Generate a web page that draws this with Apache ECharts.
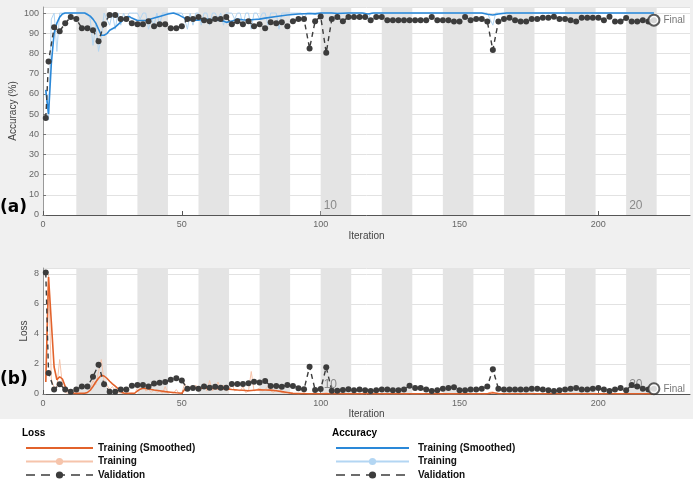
<!DOCTYPE html>
<html>
<head>
<meta charset="utf-8">
<script src="https://cdn.jsdelivr.net/npm/echarts@6/dist/echarts.min.js"></script>
<style>
html, body { margin: 0; padding: 0; background: #fff; }
#main { width: 693px; height: 480px; background: linear-gradient(#f0f0f0 0, #f0f0f0 419px, #fff 419px); }
</style>
</head>
<body>
<div id="main"></div>
<script>
// iterations: training every iteration, validation at 1 and then every 2
var trainIter = [];
for (var j = 1; j <= 220; j++) trainIter.push(j);
var valIter = [1];
for (var i = 2; i <= 220; i += 2) valIter.push(i);

var iterPerEpoch = 11;
var numEpochs = 20;
var epochLabels = [10, 20];
var xTicks = [0, 50, 100, 150, 200];

// validation accuracy (%)
var valAcc = [48,
  76, 93, 91, 95, 98,
  97, 92.5, 92.5, 91.5, 86,
  94.5, 99, 99, 97, 97,
  95, 94.5, 94.5, 96, 93.5,
  94.5, 94.5, 92.5, 92.5, 93.5,
  97, 97, 98, 96.5, 96,
  97, 97, 98, 94.5, 96,
  94.5, 96, 93.5, 94.5, 92.5,
  95.5, 95, 95.5, 93.5, 96,
  97, 97, 82.5, 96, 98.3,
  80.3, 97, 98, 96, 98,
  98, 98, 98, 96.5, 98,
  98, 96.5, 96.5, 96.5, 96.5,
  96.5, 96.5, 96.5, 96.5, 98,
  96.5, 96.5, 96.5, 95.8, 95.8,
  98, 96.5, 97, 97, 95.8,
  81.7, 95.8, 97, 97.7, 96.5,
  95.8, 95.8, 97, 97, 97.7,
  97.7, 98.2, 97, 97, 96.5,
  95.8, 97.7, 97.7, 97.7, 97.7,
  96.5, 98.2, 95.8, 95.8, 97.5,
  95.8, 95.8, 96.5, 95.8, 96.5];

// validation loss
var valLoss = [8.1,
  1.4, 0.3, 0.65, 0.3, 0.15,
  0.3, 0.5, 0.5, 1.15, 1.95,
  0.65, 0.15, 0.15, 0.3, 0.3,
  0.55, 0.6, 0.6, 0.5, 0.7,
  0.75, 0.8, 0.95, 1.05, 0.9,
  0.35, 0.4, 0.35, 0.5, 0.42,
  0.49, 0.42, 0.42, 0.67, 0.67,
  0.67, 0.71, 0.82, 0.76, 0.87,
  0.53, 0.53, 0.49, 0.6, 0.53,
  0.38, 0.31, 1.82, 0.27, 0.33,
  1.78, 0.22, 0.22, 0.27, 0.31,
  0.25, 0.3, 0.25, 0.2, 0.25,
  0.3, 0.3, 0.25, 0.25, 0.3,
  0.55, 0.4, 0.4, 0.3, 0.2,
  0.25, 0.35, 0.4, 0.45, 0.25,
  0.25, 0.3, 0.3, 0.35, 0.5,
  1.65, 0.35, 0.3, 0.3, 0.3,
  0.3, 0.3, 0.35, 0.35, 0.3,
  0.25, 0.2, 0.25, 0.3, 0.35,
  0.4, 0.3, 0.3, 0.35, 0.4,
  0.3, 0.2, 0.3, 0.4, 0.25,
  0.6, 0.5, 0.35, 0.3, 0.35];

// mini-batch training accuracy (%)
var trainAcc = [
  62, 47, 97, 100, 81, 100, 100, 100, 100, 100,
  100, 100, 100, 100, 100, 100, 97, 84, 94, 81,
  88, 100, 97, 94, 100, 92, 100, 94, 100, 97,
  100, 100, 100, 100, 97, 100, 100, 92, 97, 94,
  100, 94, 100, 100, 100, 100, 100, 100, 100, 100,
  97, 92, 100, 94, 100, 100, 94, 100, 100, 94,
  100, 100, 97, 100, 94, 100, 100, 100, 97, 100,
  100, 94, 100, 100, 92, 100, 100, 97, 100, 100,
  94, 100, 100, 100, 92, 100, 100, 100, 100, 100,
  100, 100, 100, 97, 100, 100, 100, 100, 100, 100,
  100, 100, 100, 100, 100, 100, 100, 100, 100, 100,
  100, 100, 100, 100, 100, 100, 97, 100, 100, 100,
  100, 100, 100, 100, 100, 100, 100, 100, 100, 100,
  100, 100, 100, 100, 100, 100, 100, 100, 100, 100,
  100, 100, 100, 100, 100, 100, 100, 100, 100, 100,
  100, 100, 100, 100, 100, 100, 100, 100, 100, 100,
  97, 94, 100, 100, 100, 100, 100, 100, 100, 100,
  100, 100, 100, 100, 100, 100, 100, 100, 100, 100,
  100, 100, 100, 100, 100, 100, 100, 100, 100, 100,
  100, 100, 100, 100, 100, 100, 100, 100, 100, 100,
  100, 100, 100, 100, 100, 100, 100, 100, 100, 100,
  100, 100, 100, 100, 100, 100, 100, 100, 100, 100];

// mini-batch training loss
var trainLoss = [
  0.8, 8.0, 1.0, 0.4, 0.5, 2.3, 0.6, 0.1, 0.05, 0.03,
  0.02, 0.02, 0.03, 0.02, 0.05, 0.1, 0.3, 0.9, 0.6, 1.5,
  2.3, 0.8, 0.6, 0.3, 0.5, 0.2, 0.1, 0.05, 0.02, 0.02,
  0.02, 0.05, 0.02, 0.4, 0.5, 0.8, 0.2, 0.3, 0.1, 0.3,
  0.1, 0.2, 0.05, 0.5, 0.05, 0.1, 0.05, 0.3, 0.02, 0.02,
  0.7, 0.2, 0.5, 0.3, 0.6, 0.2, 0.3, 0.7, 0.2, 0.9,
  0.2, 0.4, 0.8, 0.3, 0.6, 0.2, 0.3, 0.7, 0.2, 0.3,
  0.2, 0.5, 0.1, 0.2, 1.5, 0.2, 0.3, 0.4, 0.2, 0.3,
  0.5, 0.2, 0.1, 0.3, 0.5, 0.1, 0.05, 0.1, 0.02, 0.02,
  0.02, 0.01, 0.03, 0.1, 0.02, 0.01, 0.02, 0.02, 0.01, 0.02,
  0.03, 0.1, 0.02, 0.01, 0.02, 0.01, 0.02, 0.02, 0.01, 0.01,
  0.02, 0.01, 0.01, 0.02, 0.01, 0.05, 0.08, 0.02, 0.01, 0.01,
  0.01, 0.02, 0.01, 0.01, 0.02, 0.01, 0.01, 0.01, 0.02, 0.01,
  0.01, 0.03, 0.01, 0.01, 0.01, 0.02, 0.01, 0.01, 0.01, 0.01,
  0.02, 0.01, 0.01, 0.01, 0.02, 0.01, 0.01, 0.01, 0.01, 0.02,
  0.01, 0.01, 0.02, 0.01, 0.01, 0.01, 0.01, 0.02, 0.01, 0.03,
  0.12, 0.15, 0.03, 0.01, 0.01, 0.02, 0.01, 0.01, 0.01, 0.01,
  0.01, 0.02, 0.01, 0.01, 0.01, 0.01, 0.02, 0.01, 0.01, 0.01,
  0.01, 0.01, 0.02, 0.01, 0.01, 0.01, 0.01, 0.01, 0.02, 0.01,
  0.01, 0.01, 0.01, 0.02, 0.01, 0.01, 0.01, 0.01, 0.01, 0.02,
  0.01, 0.01, 0.01, 0.01, 0.02, 0.01, 0.01, 0.01, 0.01, 0.01,
  0.02, 0.01, 0.01, 0.01, 0.01, 0.01, 0.02, 0.01, 0.01, 0.01];

// smoothed training curves, [iteration, value]
var smoothAcc = [[1,62],[2,50],[3,75],[4,90],[5,95],[6,98],[7,99.5],[8,100],[10,100],[12,100],
  [14,100],[15,100],[16,99.3],[17,98.5],[18,97],[19,95],[20,92],[21,89],[22,89],[23,89.8],
  [24,91.5],[26,93],[28,95.5],[30,98],[31,98.3],[32,97.5],[34,96.3],[37,96.3],[40,97.5],[42,98.3],
  [45,99.5],[47,100],[49,99],[51,97.5],[52,96.5],[54,96.5],[56,96.5],[58,97],[60,96.8],[63,96.5],
  [65,96],[66,95.4],[68,96],[70,97],[72,96.7],[74,96.5],[76,96.8],[78,97],[80,97.5],[84,98.3],
  [88,99],[92,99.5],[96,99.8],[98,99.6],[100,100],[104,100],[106,99.8],[110,100],[115,100],[117,99.5],
  [119,100],[158,100],[160,99.4],[162,99],[164,99.5],[167,100],[220,100]];

var smoothLoss = [[1,0.8],[2,7.8],[3,4.8],[4,1.8],[5,0.95],[6,1.15],[7,1.0],[8,0.5],[9,0.25],[10,0.12],
  [11,0.06],[12,0.04],[15,0.05],[16,0.1],[17,0.25],[18,0.5],[19,0.8],[20,1.05],[21,1.25],[22,1.2],
  [23,1.05],[24,0.85],[25,0.68],[26,0.52],[27,0.36],[28,0.18],[29,0.07],[30,0.04],[33,0.05],[34,0.2],
  [35,0.32],[36,0.38],[38,0.33],[40,0.27],[42,0.22],[44,0.16],[46,0.12],[48,0.08],[50,0.05],[51,0.3],
  [52,0.38],[56,0.4],[60,0.38],[64,0.36],[66,0.34],[68,0.3],[70,0.27],[72,0.25],[74,0.22],[76,0.25],
  [78,0.28],[80,0.27],[82,0.26],[84,0.22],[86,0.16],[88,0.1],[90,0.04],[94,0.02],[160,0.02],[162,0.08],
  [164,0.03],[220,0.02]];

var labelNames = {
  'lossSmooth': 'Training (Smoothed)', 'lossTrain': 'Training', 'lossVal': 'Validation',
  'accSmooth': 'Training (Smoothed)', 'accTrain': 'Training', 'accVal': 'Validation'
};

function zip(xs, ys) {
  return xs.map(function (x, k) { return [x, ys[k]]; });
}

// shaded bands for even epochs
function epochBands() {
  var out = [];
  for (var e = 2; e <= numEpochs; e += 2) {
    var start = (e - 1) * iterPerEpoch + 1;
    var end = e * iterPerEpoch + 1;
    out.push([{ xAxis: start, label: { show: epochLabels.indexOf(e) >= 0, formatter: String(e) } }, { xAxis: end }]);
  }
  return out;
}

var tickFont = { color: '#666', fontSize: 9, fontFamily: 'Liberation Sans' };
var nameFont = { color: '#444', fontSize: 10, fontFamily: 'Liberation Sans' };

function xAxisFor(idx, gap) {
  return {
    type: 'value', gridIndex: idx, min: 0, max: 233, interval: 50,
    name: 'Iteration', nameLocation: 'middle', nameGap: gap, nameTextStyle: nameFont,
    axisLine: { show: true, lineStyle: { color: '#555', width: 1 } },
    axisTick: { show: true, inside: true, length: 4, lineStyle: { color: '#555' } },
    axisLabel: Object.assign({ margin: 5, showMaxLabel: false }, tickFont),
    splitLine: { show: false }
  };
}

function yAxisFor(idx, max, interval, name, gap) {
  return {
    type: 'value', gridIndex: idx, min: 0, max: max, interval: interval,
    name: name, nameLocation: 'middle', nameGap: gap, nameMoveOverlap: false, nameTextStyle: nameFont,
    axisLine: { show: true, lineStyle: { color: '#999', width: 1 } },
    axisTick: { show: true, inside: true, length: 3, lineStyle: { color: '#777' } },
    axisLabel: Object.assign({ margin: 4, showMaxLabel: false }, tickFont),
    splitLine: { show: true, lineStyle: { color: '#e2e2e2', width: 1 } }
  };
}

var bandStyle = {
  silent: true,
  itemStyle: { color: '#e4e4e4' },
  label: { position: 'insideBottomLeft', distance: 3, color: '#8a8a8a', fontSize: 12, fontFamily: 'Liberation Sans' },
  data: epochBands()
};

var valStyle = {
  type: 'line', symbol: 'circle', symbolSize: 6,
  itemStyle: { color: '#3c3c3c' },
  lineStyle: { color: '#3c3c3c', width: 1.4, type: [5, 4] },
  z: 4
};

function finalMark(g, y) {
  return {
    type: 'scatter', xAxisIndex: g, yAxisIndex: g, silent: true,
    symbol: 'emptyCircle', symbolSize: 11,
    itemStyle: { color: '#333', borderWidth: 1.2 },
    label: { show: true, position: 'right', distance: 3, formatter: 'Final', color: '#555', fontSize: 10, fontFamily: 'Liberation Sans' },
    data: [[valIter[valIter.length - 1], y]], z: 5
  };
}

var legendText = { fontSize: 10, fontWeight: 'bold', color: '#111', fontFamily: 'Liberation Sans' };
var legendDash = { type: [9, 6], width: 1.4 };

var chart = echarts.init(document.getElementById('main'), null, { renderer: 'canvas' });
chart.setOption({
  backgroundColor: 'transparent',
  animation: false,
  title: [
    { text: '(a)', left: 0, top: 199, padding: 0, textStyle: { fontSize: 17, fontWeight: 'bold', color: '#000', fontFamily: 'DejaVu Sans' } },
    { text: '(b)', left: 0, top: 371, padding: 0, textStyle: { fontSize: 17, fontWeight: 'bold', color: '#000', fontFamily: 'DejaVu Sans' } },
    { text: 'Loss', left: 22, top: 428, padding: 0, textStyle: { fontSize: 10, fontWeight: 'bold', color: '#000', fontFamily: 'Liberation Sans' } },
    { text: 'Accuracy', left: 332, top: 428, padding: 0, textStyle: { fontSize: 10, fontWeight: 'bold', color: '#000', fontFamily: 'Liberation Sans' } }
  ],
  legend: [
    {
      data: [{ name: 'lossSmooth', itemStyle: { opacity: 0 } }, 'lossTrain', { name: 'lossVal', lineStyle: legendDash }],
      orient: 'vertical', left: 25, top: 443, padding: 0,
      itemWidth: 67, itemHeight: 9, itemGap: 3.5, selectedMode: false,
      formatter: function (n) { return labelNames[n]; },
      textStyle: legendText
    },
    {
      data: [{ name: 'accSmooth', itemStyle: { opacity: 0 } }, 'accTrain', { name: 'accVal', lineStyle: legendDash }],
      orient: 'vertical', left: 335, top: 443, padding: 0,
      itemWidth: 73, itemHeight: 9, itemGap: 3.5, selectedMode: false,
      formatter: function (n) { return labelNames[n]; },
      textStyle: Object.assign({ padding: [0, 0, 0, 4] }, legendText)
    }
  ],
  grid: [
    { left: 43, top: 7, width: 647, height: 208, show: true, backgroundColor: '#fff', borderWidth: 0, containLabel: false, outerBoundsMode: 'none' },
    { left: 43, top: 268, width: 647, height: 126, show: true, backgroundColor: '#fff', borderWidth: 0, containLabel: false, outerBoundsMode: 'none' }
  ],
  xAxis: [xAxisFor(0, 16), xAxisFor(1, 14)],
  yAxis: [yAxisFor(0, 103, 10, 'Accuracy (%)', 25), yAxisFor(1, 8.4, 2, 'Loss', 14)],
  series: [
    {
      name: 'accTrain', type: 'line', xAxisIndex: 0, yAxisIndex: 0,
      symbol: 'circle', showSymbol: false, symbolSize: 6,
      itemStyle: { color: '#b3d6f3' }, lineStyle: { color: '#b3d6f3', width: 1 },
      data: zip(trainIter, trainAcc), markArea: bandStyle, z: 2
    },
    {
      name: 'accSmooth', type: 'line', xAxisIndex: 0, yAxisIndex: 0, symbol: 'none',
      itemStyle: { color: '#2a88d8' }, lineStyle: { color: '#2a88d8', width: 1.6 },
      data: smoothAcc, z: 3
    },
    Object.assign({ name: 'accVal', xAxisIndex: 0, yAxisIndex: 0, data: zip(valIter, valAcc) }, valStyle),
    finalMark(0, valAcc[valAcc.length - 1]),
    {
      name: 'lossTrain', type: 'line', xAxisIndex: 1, yAxisIndex: 1,
      symbol: 'circle', showSymbol: false, symbolSize: 6,
      itemStyle: { color: '#f6c4ab' }, lineStyle: { color: '#f6c4ab', width: 1 },
      data: zip(trainIter, trainLoss), markArea: bandStyle, z: 2
    },
    {
      name: 'lossSmooth', type: 'line', xAxisIndex: 1, yAxisIndex: 1, symbol: 'none',
      itemStyle: { color: '#e2622b' }, lineStyle: { color: '#e2622b', width: 1.6 },
      data: smoothLoss, z: 3
    },
    Object.assign({ name: 'lossVal', xAxisIndex: 1, yAxisIndex: 1, data: zip(valIter, valLoss) }, valStyle),
    finalMark(1, valLoss[valLoss.length - 1])
  ]
});
</script>
</body>
</html>
